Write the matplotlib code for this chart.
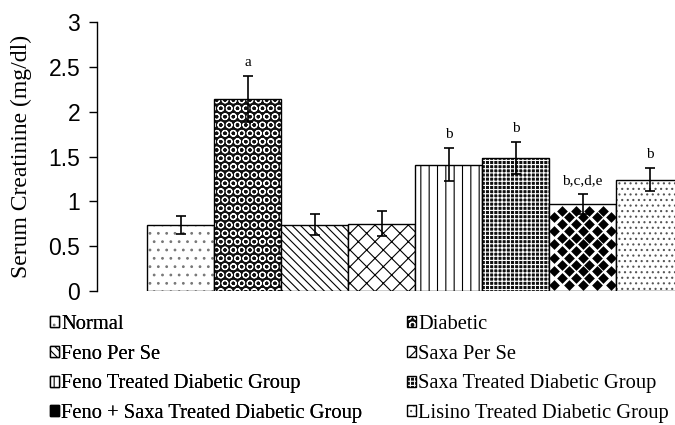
import matplotlib.pyplot as plt
import matplotlib.patches as mpatches
from matplotlib.legend_handler import HandlerTuple
import numpy as np

# group names, means and SEM
groups = ["Normal", "Diabetic", "Feno Per Se", "Saxa Per Se",
          "Feno Treated Diabetic Group", "Saxa Treated Diabetic Group",
          "Feno + Saxa Treated Diabetic Group", "Lisino Treated Diabetic Group"]
means = [0.74, 2.14, 0.74, 0.75, 1.41, 1.48, 0.97, 1.24]
errors = [0.10, 0.26, 0.12, 0.14, 0.18, 0.18, 0.11, 0.13]
sig_labels = ["", "a", "", "", "b", "b", "b,c,d,e", "b"]

# fill style per bar: (face colour, hatch, hatch colour)
styles = [
    ("white", "..", "#777777"),
    ("#111111", "OO", "white"),
    ("white", "\\\\\\\\", "black"),
    ("white", "xx", "black"),
    ("white", "||", "black"),
    ("#111111", "++++", "white"),
    ("white", "", "black"),
    ("white", "...", "#555555"),
]

plt.rcParams["hatch.linewidth"] = 0.8
serif = "Liberation Serif"
sans = "Liberation Sans"

fig = plt.figure(figsize=(6.75, 4.25), dpi=100)
ax = fig.add_axes([0.1437, 0.3153, 0.8563, 0.6329])

x = np.arange(len(means))
width = 1.0
handles = []
for i, m in enumerate(means):
    face, hatch, hcol = styles[i]
    # hatch layer (edge colour doubles as hatch colour), then outline
    ax.bar(x[i], m, width, color=face, hatch=hatch, edgecolor=hcol, linewidth=0)
    ax.bar(x[i], m, width, fill=False, edgecolor="black", linewidth=1.0)
    handles.append((mpatches.Patch(facecolor=face, hatch=hatch, edgecolor=hcol, linewidth=0),
                    mpatches.Patch(fill=False, edgecolor="black", linewidth=1.0)))

# black diamonds on the combination group bar
xs, ys = np.meshgrid(np.linspace(x[6] - 0.42, x[6] + 0.42, 5),
                     np.arange(0.07, means[6], 0.15))
xs2, ys2 = np.meshgrid(np.linspace(x[6] - 0.31, x[6] + 0.31, 4),
                       np.arange(0.145, means[6], 0.15))
pts = ax.scatter(np.r_[xs.ravel(), xs2.ravel()], np.r_[ys.ravel(), ys2.ravel()],
                 marker="D", s=30, color="black", linewidths=0, zorder=2)
pts.set_clip_path(ax.patches[12])
# solid square as the legend key for that group
handles[6] = (mpatches.Patch(facecolor="black", linewidth=0),
              mpatches.Patch(fill=False, edgecolor="black", linewidth=1.0))

ax.errorbar(x, means, yerr=errors, fmt="none", ecolor="black",
            elinewidth=1.2, capsize=3.5, capthick=1.2, zorder=5)

for xi, m, e, lab in zip(x, means, errors, sig_labels):
    if lab:
        ax.text(xi, m + e + 0.08, lab, ha="center", va="bottom",
                fontsize=11, family=serif)

ax.set_xlim(-1.25, 7.38)
ax.set_ylim(0, 3)
ax.set_yticks([0, 0.5, 1, 1.5, 2, 2.5, 3])
ax.set_yticklabels(["0", "0.5", "1", "1.5", "2", "2.5", "3"], family=sans, fontsize=16.5)
ax.set_xticks([])
ax.set_ylabel("Serum Creatinine (mg/dl)", family=serif, fontsize=17, labelpad=12)
for s in ["top", "right", "bottom"]:
    ax.spines[s].set_visible(False)
ax.spines["left"].set_linewidth(1.0)
ax.tick_params(axis="y", direction="out", length=6, width=1.0, pad=6)

# legend: two columns, each its own legend box
legend_kw = dict(loc="upper left", frameon=False, handlelength=0.45, handleheight=0.45,
                 handletextpad=0.1, labelspacing=0.52, borderpad=0, borderaxespad=0,
                 prop={"family": serif, "size": 14.8},
                 handler_map={tuple: HandlerTuple(ndivide=1, pad=0)})
left_col = [0, 2, 4, 6]
right_col = [1, 3, 5, 7]
leg1 = fig.legend([handles[i] for i in left_col], [groups[i] for i in left_col],
                  bbox_to_anchor=(50 / 675, 1 - 315 / 425), **legend_kw)
fig.add_artist(leg1)
fig.legend([handles[i] for i in right_col], [groups[i] for i in right_col],
           bbox_to_anchor=(407 / 675, 1 - 315 / 425), **legend_kw)

fig.savefig("out.png", dpi=100)
